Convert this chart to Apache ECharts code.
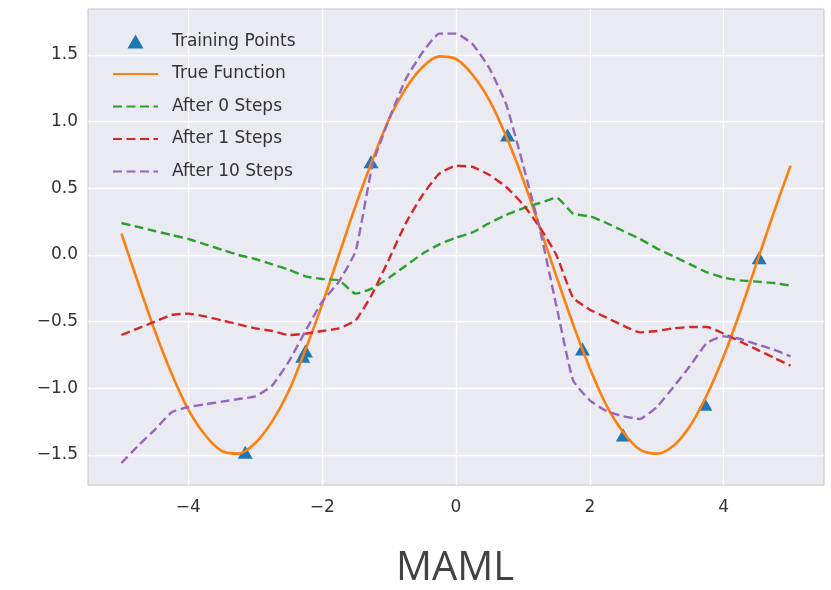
<!DOCTYPE html>
<html>
<head>
<meta charset="utf-8">
<script src="https://cdn.jsdelivr.net/npm/echarts@6/dist/echarts.min.js"></script>
<style>
  html, body { margin: 0; padding: 0; background: #fff; }
  #chart { width: 831px; height: 590px; }
</style>
</head>
<body>
<div id="chart"></div>
<script>
// 采样点 x 坐标
var xs = [-5, -4.75, -4.5, -4.25, -4, -3.75, -3.5, -3.25, -3, -2.75, -2.5, -2.25, -2, -1.75, -1.5, -1.25, -1, -0.75, -0.5, -0.25,
    0, 0.25, 0.5, 0.75, 1, 1.25, 1.5, 1.75, 2, 2.25, 2.5, 2.75, 3, 3.25, 3.5, 3.75, 4, 4.25, 4.5, 4.75, 5];
var trueFunction = [0.16, -0.21, -0.57, -0.89, -1.16, -1.35, -1.47, -1.49, -1.41, -1.25, -1.02, -0.71, -0.37, 0, 0.37, 0.71, 1.02, 1.25, 1.41, 1.49,
    1.47, 1.35, 1.16, 0.89, 0.57, 0.21, -0.16, -0.52, -0.85, -1.13, -1.33, -1.46, -1.49, -1.43, -1.28, -1.05, -0.76, -0.42, -0.05, 0.32, 0.67];
var after0 = [0.24, 0.21, 0.18, 0.15, 0.12, 0.08, 0.04, 0, -0.03, -0.07, -0.11, -0.16, -0.18, -0.19, -0.29, -0.25, -0.17, -0.08, 0.01, 0.08,
    0.13, 0.17, 0.24, 0.30, 0.35, 0.39, 0.43, 0.31, 0.29, 0.24, 0.18, 0.12, 0.05, -0.01, -0.07, -0.13, -0.17, -0.19, -0.20, -0.21, -0.23];
var after1 = [-0.60, -0.55, -0.50, -0.45, -0.44, -0.46, -0.49, -0.52, -0.55, -0.57, -0.60, -0.59, -0.57, -0.55, -0.49, -0.29, -0.03, 0.24, 0.45, 0.61,
    0.67, 0.66, 0.60, 0.51, 0.38, 0.21, 0, -0.32, -0.41, -0.47, -0.53, -0.58, -0.57, -0.55, -0.54, -0.54, -0.59, -0.65, -0.71, -0.77, -0.83];
var after10 = [-1.56, -1.43, -1.31, -1.18, -1.14, -1.12, -1.10, -1.08, -1.06, -0.98, -0.80, -0.57, -0.35, -0.20, 0.03, 0.67, 1.02, 1.32, 1.52, 1.66,
    1.66, 1.58, 1.40, 1.13, 0.68, 0.20, -0.38, -0.94, -1.09, -1.17, -1.21, -1.23, -1.14, -0.99, -0.83, -0.66, -0.61, -0.63, -0.67, -0.71, -0.76];
// 训练点
var trainX = [-3.15, -2.25, -2.29, -1.27, 0.77, 1.89, 2.5, 3.72, 4.53];
var trainY = [-1.48, -0.72, -0.76, 0.70, 0.90, -0.705, -1.35, -1.12, -0.02];

var xTicks = [-4, -2, 0, 2, 4];
var yTicks = [-1.5, -1, -0.5, 0, 0.5, 1, 1.5];
var seriesNames = ['Training Points', 'True Function', 'After 0 Steps', 'After 1 Steps', 'After 10 Steps'];

var textFont = 'DejaVu Sans';
var textColor = '#333';

function pairs(ys) {
    return xs.map(function (x, i) { return [x, ys[i]]; });
}
function minusSign(s) {
    return s.replace('-', '\u2212');
}
function dashLine(name, ys, color) {
    return {
        name: name,
        type: 'line',
        data: pairs(ys),
        symbol: 'none',
        showSymbol: false,
        smooth: 0.15,
        lineStyle: { color: color, width: 2.4, type: [9, 4.5] },
        itemStyle: { color: color },
        z: 3
    };
}

// 图例：三角形保持比例，折线只显示线段
var legendData = seriesNames.map(function (name, i) {
    if (i === 0) return { name: name, icon: 'path://M0,13L7.5,0L15,13Z' };
    return { name: name, itemStyle: { opacity: 0 } };
});

var chart = echarts.init(document.getElementById('chart'));
chart.setOption({
    animation: false,
    backgroundColor: '#fff',
    title: {
        text: 'MAML',
        left: 450,
        top: 544,
        textAlign: 'center',
        textStyle: { fontFamily: 'Open Sans', fontSize: 40, fontWeight: 'normal', color: '#424242' }
    },
    grid: {
        left: 88,
        right: 7,
        top: 9,
        bottom: 105,
        show: true,
        backgroundColor: '#EAEAF2',
        borderColor: '#c4c4c4',
        borderWidth: 1
    },
    legend: {
        data: legendData,
        orient: 'vertical',
        left: 107,
        top: 28,
        itemWidth: 45,
        itemHeight: 14,
        itemGap: 15.5,
        symbolKeepAspect: true,
        textStyle: { fontFamily: textFont, fontSize: 17, color: textColor, padding: [0, 0, 0, 9] }
    },
    xAxis: {
        type: 'value',
        min: -5.5,
        max: 5.5,
        axisLine: { show: false },
        axisTick: { show: false, customValues: xTicks },
        axisLabel: {
            customValues: xTicks,
            margin: 14,
            fontFamily: textFont,
            fontSize: 17,
            color: textColor,
            formatter: function (v) { return minusSign(String(v)); }
        },
        splitLine: { show: true, lineStyle: { color: '#fff', width: 1.3 } }
    },
    yAxis: {
        type: 'value',
        min: -1.725,
        max: 1.845,
        axisLine: { show: false },
        axisTick: { show: false, customValues: yTicks },
        axisLabel: {
            customValues: yTicks,
            margin: 10,
            fontFamily: textFont,
            fontSize: 17,
            color: textColor,
            formatter: function (v) { return minusSign(v.toFixed(1)); }
        },
        splitLine: { show: true, lineStyle: { color: '#fff', width: 1.3 } }
    },
    series: [
        {
            name: 'Training Points',
            type: 'scatter',
            data: trainX.map(function (x, i) { return [x, trainY[i]]; }),
            symbol: 'triangle',
            symbolSize: [15, 13],
            itemStyle: { color: '#1f77b4', opacity: 1 },
            z: 2
        },
        {
            name: 'True Function',
            type: 'line',
            data: pairs(trueFunction),
            symbol: 'none',
            showSymbol: false,
            smooth: 0.3,
            lineStyle: { color: '#ff7f0e', width: 2.6 },
            itemStyle: { color: '#ff7f0e' },
            z: 3
        },
        dashLine('After 0 Steps', after0, '#2ca02c'),
        dashLine('After 1 Steps', after1, '#d62728'),
        dashLine('After 10 Steps', after10, '#9467bd')
    ]
});
</script>
</body>
</html>
